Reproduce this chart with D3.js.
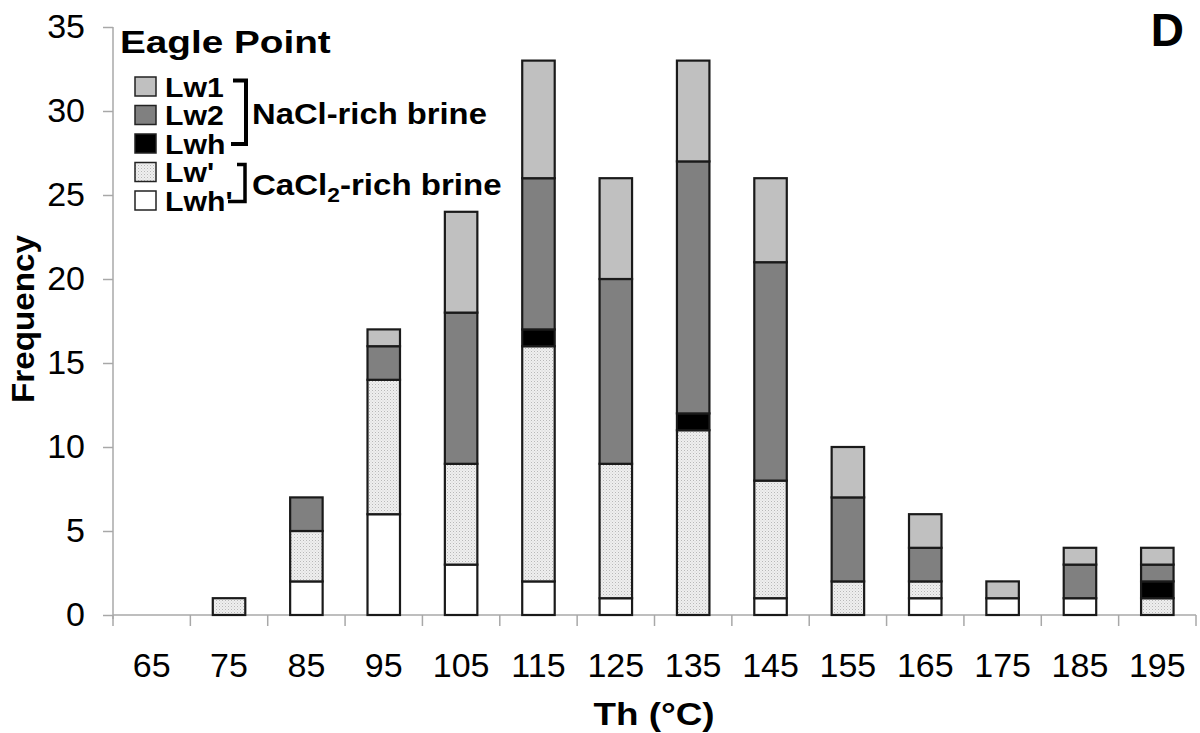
<!DOCTYPE html>
<html>
<head>
<meta charset="utf-8">
<script src="https://cdn.jsdelivr.net/npm/d3@7"></script>
<style>
  html, body { margin: 0; padding: 0; background: #fff; }
  svg { display: block; }
  text { font-family: "Liberation Sans", Arial, Helvetica, sans-serif; fill: #000; }
</style>
</head>
<body>
<svg id="chart" width="1200" height="733"></svg>
<script>
// ---- data ----
const categories = ["65","75","85","95","105","115","125","135","145","155","165","175","185","195"];
// stacked from bottom: Lwh', Lw', Lwh, Lw2, Lw1
const LwhPrime = [0,0,2,6,3,2,1,0,1,0,1,1,1,0];
const LwPrime  = [0,1,3,8,6,14,8,11,7,2,1,0,0,1];
const Lwh      = [0,0,0,0,0,1,0,1,0,0,0,0,0,1];
const Lw2      = [0,0,2,2,9,9,11,15,13,5,2,0,2,1];
const Lw1      = [0,0,0,1,6,7,6,6,5,3,2,1,1,1];
const yTicks = [0,5,10,15,20,25,30,35];
const seriesKeys = ["Lwh'","Lw'","Lwh","Lw2","Lw1"];
const legendLabels = ["Lw1","Lw2","Lwh","Lw'","Lwh'"];

const table = categories.map((c,i) => ({
  cat: c, "Lwh'": LwhPrime[i], "Lw'": LwPrime[i], "Lwh": Lwh[i], "Lw2": Lw2[i], "Lw1": Lw1[i]
}));

const svg = d3.select("#chart");
const defs = svg.append("defs");
const pat = defs.append("pattern").attr("id","dots").attr("patternUnits","userSpaceOnUse")
  .attr("width",3).attr("height",3);
pat.append("rect").attr("width",3).attr("height",3).attr("fill","#efefef");
pat.append("rect").attr("x",0).attr("y",0).attr("width",1).attr("height",1).attr("fill","#b8b8b8");
pat.append("rect").attr("x",1.5).attr("y",1.5).attr("width",1).attr("height",1).attr("fill","#cfcfcf");

const fills = {"Lw1":"#c0c0c0","Lw2":"#808080","Lwh":"#000000","Lw'":"url(#dots)","Lwh'":"#ffffff"};

const pLeft = 113, pRight = 1196, pTop = 27, pBottom = 615;
const x = d3.scaleBand().domain(categories).range([pLeft,pRight]).paddingInner(0.58).paddingOuter(0.29);
const y = d3.scaleLinear().domain([0,35]).range([pBottom,pTop]);

// axes
const axisColor = "#a8a8a8";
const gy = svg.append("g").attr("transform",`translate(${pLeft},0)`)
  .call(d3.axisLeft(y).tickValues(yTicks).tickSize(10).tickPadding(18).tickFormat(d3.format("d")));
gy.select(".domain").attr("stroke",axisColor).attr("stroke-width",1.5).attr("d",`M0,${pTop}V${pBottom+4}`);
gy.selectAll(".tick line").attr("stroke",axisColor).attr("stroke-width",1.5);
gy.selectAll(".tick text").attr("font-size",34).attr("fill","#000").attr("font-family","Liberation Sans, Arial, sans-serif");

// x axis: line + boundary ticks
const step = x.step();
const boundaries = d3.range(categories.length+1).map(i => pLeft + i*step);
const gx = svg.append("g");
gx.append("line").attr("x1",pLeft).attr("x2",pRight).attr("y1",pBottom).attr("y2",pBottom)
  .attr("stroke",axisColor).attr("stroke-width",1.5);
gx.selectAll("line.bt").data(boundaries).join("line").attr("class","bt")
  .attr("x1",d=>d).attr("x2",d=>d).attr("y1",pBottom).attr("y2",pBottom+11)
  .attr("stroke",axisColor).attr("stroke-width",1.5);
gx.selectAll("text.xl").data(categories).join("text").attr("class","xl")
  .attr("x",d=>x(d)+x.bandwidth()/2).attr("y",677).attr("text-anchor","middle")
  .attr("font-size",34).text(d=>d);

// stacked bars
const stack = d3.stack().keys(seriesKeys)(table);
svg.append("g").selectAll("g").data(stack).join("g")
  .attr("fill",d=>fills[d.key])
  .selectAll("rect").data(d=>d.filter(p=>p[1]-p[0]>0)).join("rect")
  .attr("x",d=>x(d.data.cat)).attr("width",x.bandwidth())
  .attr("y",d=>y(d[1])).attr("height",d=>y(d[0])-y(d[1]))
  .attr("stroke","#1a1a1a").attr("stroke-width",2.2);

// helper: bold text stretched horizontally
function boldText(parent, tx, ty, size, sx, str, anchor) {
  return parent.append("text").attr("transform",`translate(${tx},${ty}) scale(${sx},1)`)
    .attr("font-size",size).attr("font-weight","bold").attr("text-anchor",anchor||"start").text(str);
}

// axis titles
svg.append("text").attr("transform","translate(34,319) rotate(-90)")
  .attr("text-anchor","middle").attr("font-size",31).attr("font-weight","bold")
  .attr("textLength",168).attr("lengthAdjust","spacingAndGlyphs").text("Frequency");
boldText(svg, 654, 725, 32, 1.15, "Th (°C)", "middle");

// titles
boldText(svg, 120, 53, 32, 1.21, "Eagle Point");
svg.append("text").attr("x",1184).attr("y",46).attr("text-anchor","end")
  .attr("font-size",46).attr("font-weight","bold").text("D");

// legend
const lg = svg.append("g");
const rowY = [86.5, 115, 143.5, 172, 200.5];
legendLabels.forEach((k,i) => {
  lg.append("rect").attr("x",135).attr("y",rowY[i]-9.5).attr("width",21).attr("height",19)
    .attr("fill",fills[k]).attr("stroke","#222").attr("stroke-width",1.5);
  boldText(lg, 165, rowY[i]+10, 27, 1.12, k);
});
// brackets
lg.append("path").attr("d","M233,80.5 H246 V144 H231").attr("fill","none").attr("stroke","#000").attr("stroke-width",4);
lg.append("path").attr("d","M237,164.5 H245 V201.5 H228").attr("fill","none").attr("stroke","#000").attr("stroke-width",3.5);
boldText(lg, 252, 124, 29, 1.13, "NaCl-rich brine");
const ca = lg.append("text").attr("transform","translate(252,195) scale(1.14,1)")
  .attr("font-size",29).attr("font-weight","bold");
ca.append("tspan").text("CaCl");
ca.append("tspan").attr("font-size",20).attr("dy",7).text("2");
ca.append("tspan").attr("dy",-7).text("-rich brine");
</script>
</body>
</html>
